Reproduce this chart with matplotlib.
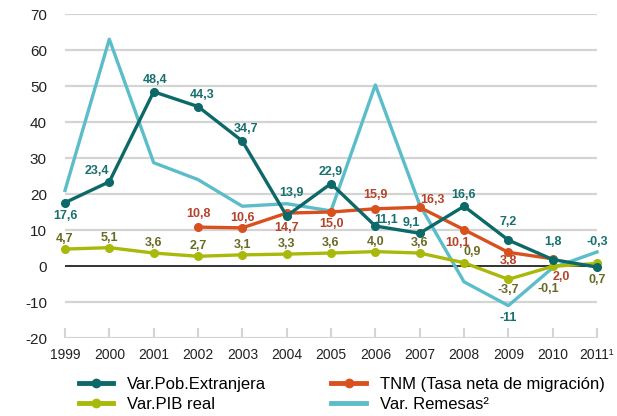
import matplotlib
matplotlib.use("Agg")
import matplotlib.pyplot as plt

plt.rcParams["font.family"] = ["Liberation Sans", "DejaVu Sans"]
plt.rcParams["axes.unicode_minus"] = False

years = list(range(1999, 2012))
year_labels = [str(y) for y in years[:-1]] + ["2011¹"]

pob_ext = [17.6, 23.4, 48.4, 44.3, 34.7, 13.9, 22.9, 11.1, 9.1, 16.6, 7.2, 1.8, -0.3]
tnm_years = list(range(2002, 2011))
tnm = [10.8, 10.6, 14.7, 15.0, 15.9, 16.3, 10.1, 3.8, 2.0]
pib = [4.7, 5.1, 3.6, 2.7, 3.1, 3.3, 3.6, 4.0, 3.6, 0.9, -3.7, -0.1, 0.7]
remesas = [21.0, 63.0, 28.7, 24.0, 16.6, 17.3, 15.3, 50.3, 17.0, -4.4, -11.0, -0.5, 3.9]

c_pob, c_pob_txt = "#0d6868", "#17706e"
c_tnm, c_tnm_txt = "#d9501f", "#b3432a"
c_pib, c_pib_txt = "#a9b90a", "#6a6a25"
c_rem = "#5bbdca"

# label offsets in pixels (dx, dy) relative to each point
pob_off = [(0, -13), (-12, 11), (1, 12), (4, 12), (4, 12), (5, 23), (0, 12),
           (11, 6), (-8, 10), (0, 11), (0, 18), (0, 18), (0, 25)]
tnm_off = [(0, 13), (0, 10), (0, -15), (0, -12), (0, 14), (13, 7), (-6, -13),
           (0, -9), (9, -18)]
pib_off = [(0, 10), (0, 10), (0, 10), (0, 10), (0, 10), (0, 10), (0, 10),
           (0, 10), (0, 10), (8, 11), (0, -11), (-4, -23), (0, -17)]

fig = plt.figure(figsize=(6.17, 4.16), dpi=100)
ax = fig.add_axes([65 / 617, 1 - 338 / 416, 532 / 617, 324 / 416])

ax.set_xlim(1999, 2011)
ax.set_ylim(-20, 70)
ax.set_yticks(range(-20, 71, 10))
ax.set_xticks(years)
ax.set_xticklabels(year_labels)
for s in ax.spines.values():
    s.set_visible(False)
for yv in range(-20, 71, 10):
    if yv != 0:
        ax.axhline(yv, color="#d4d4d4", lw=1.6, zorder=0)
ax.axhline(0, color="#222222", lw=1.3, zorder=1)
ax.tick_params(axis="y", length=0, pad=13, labelsize=11, labelcolor="#222222")
ax.tick_params(axis="x", direction="in", length=7, width=1.5, color="#d4d4d4",
               pad=7, labelsize=10, labelcolor="#222222")

lw, ms = 2.4, 5.5
ax.plot(years, remesas, color=c_rem, lw=lw, zorder=2, clip_on=False)
ax.plot(years, pib, color=c_pib, lw=lw, marker="o", ms=ms, zorder=3, clip_on=False)
ax.plot(tnm_years, tnm, color=c_tnm, lw=lw, marker="o", ms=ms, zorder=4, clip_on=False)
ax.plot(years, pob_ext, color=c_pob, lw=lw, marker="o", ms=ms, zorder=5, clip_on=False)


def fmt(v):
    return f"{v:.1f}".replace(".", ",")


def label(xs, vals, offs, color):
    for x, v, (dx, dy) in zip(xs, vals, offs):
        ax.annotate(fmt(v), (x, v), xytext=(dx, dy), textcoords="offset pixels",
                    ha="center", va="center", fontsize=9, fontweight="bold",
                    color=color, zorder=6, annotation_clip=False)


label(years, pob_ext, pob_off, c_pob_txt)
label(tnm_years, tnm, tnm_off, c_tnm_txt)
label(years, pib, pib_off, c_pib_txt)
ax.annotate("-11", (2009, remesas[10]), xytext=(0, -12), textcoords="offset pixels",
            ha="center", va="center", fontsize=9, fontweight="bold", color=c_pob_txt)

handles = [
    plt.Line2D([], [], color=c_pob, lw=3.5, marker="o", ms=6),
    plt.Line2D([], [], color=c_pib, lw=3.5, marker="o", ms=6),
    plt.Line2D([], [], color=c_tnm, lw=3.5, marker="o", ms=6),
    plt.Line2D([], [], color=c_rem, lw=3.5),
]
names = ["Var.Pob.Extranjera", "Var.PIB real", "TNM (Tasa neta de migración)", "Var. Remesas²"]
fig.legend(handles, names, ncol=2, loc="upper left", bbox_to_anchor=(79 / 617, 1 - 377 / 416),
           frameon=False, fontsize=12, borderpad=0, borderaxespad=0, handlelength=2.05,
           handletextpad=0.85, labelspacing=0.3, columnspacing=3.9)

fig.savefig("out.png", dpi=100)
